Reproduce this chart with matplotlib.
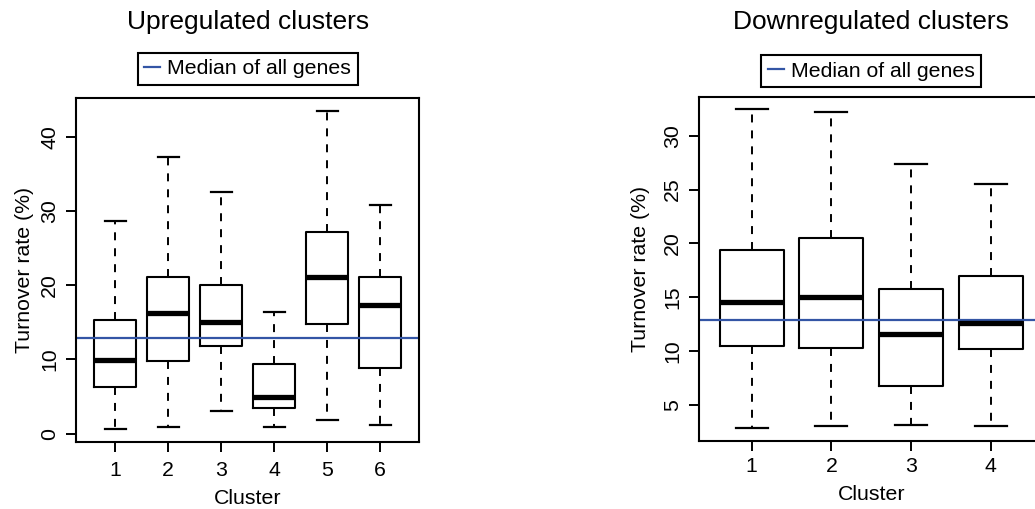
import matplotlib
matplotlib.use("Agg")
from matplotlib import pyplot as plt

plt.rcParams['font.family'] = ['Liberation Sans', 'DejaVu Sans']

# Upregulated clusters: whisker low, Q1, median, Q3, whisker high
up_clusters = ["1", "2", "3", "4", "5", "6"]
up_low = [0.6, 0.95, 3.05, 0.95, 1.9, 1.2]
up_q1 = [6.3, 9.8, 11.8, 3.45, 14.8, 8.8]
up_med = [9.9, 16.2, 15.05, 5.0, 21.1, 17.3]
up_q3 = [15.3, 21.1, 20.0, 9.4, 27.1, 21.1]
up_high = [28.6, 37.3, 32.5, 16.4, 43.5, 30.8]

# Downregulated clusters
down_clusters = ["1", "2", "3", "4"]
down_low = [2.87, 3.03, 3.15, 3.03]
down_q1 = [10.44, 10.29, 6.77, 10.23]
down_med = [14.52, 15.05, 11.56, 12.58]
down_q3 = [19.43, 20.52, 15.73, 16.96]
down_high = [32.44, 32.16, 27.38, 25.49]

median_all = 12.9
blue = '#3355a5'
fs = 15.3


def make_stats(low, q1, med, q3, high):
    stats = []
    for i in range(len(low)):
        stats.append(dict(whislo=low[i], q1=q1[i], med=med[i], q3=q3[i],
                          whishi=high[i], fliers=[]))
    return stats


def draw_panel(ax, stats, labels, title, yticks, title_y, leg_y,
               xpad, xlabpad, ylabpad):
    n = len(stats)
    ax.bxp(stats, positions=range(1, n + 1), widths=0.8, showfliers=False,
           boxprops=dict(color='black', linewidth=1.5),
           medianprops=dict(color='black', linewidth=3.8, solid_capstyle='butt'),
           whiskerprops=dict(color='black', linewidth=1.4, linestyle=(0, (4.1, 4.1))),
           capprops=dict(color='black', linewidth=1.6), capwidths=0.4)
    lo = min(s['whislo'] for s in stats)
    hi = max(s['whishi'] for s in stats)
    r = hi - lo
    ax.set_ylim(lo - 0.04 * r, hi + 0.04 * r)
    ax.set_xlim(0.5 - 0.04 * n, n + 0.5 + 0.04 * n)
    ax.axhline(median_all, color=blue, linewidth=1.6, label='Median of all genes')
    ax.set_xticks(range(1, n + 1))
    ax.set_xticklabels(labels)
    ax.set_yticks(yticks)
    ax.set_yticklabels([str(t) for t in yticks], rotation=90, va='center')
    ax.tick_params(axis='both', direction='out', length=7, width=1.4,
                   labelsize=fs)
    ax.tick_params(axis='x', pad=xpad)
    ax.tick_params(axis='y', pad=5)
    for sp in ax.spines.values():
        sp.set_linewidth(1.5)
    ax.set_xlabel("Cluster", fontsize=fs, labelpad=xlabpad)
    ax.set_ylabel("Turnover rate (%)", fontsize=fs, labelpad=ylabpad)
    ax.text(0.5, title_y, title, transform=ax.transAxes, ha='center',
            va='center', fontsize=19)
    leg = ax.legend(loc='center', bbox_to_anchor=(0.5, leg_y), fontsize=fs,
                    handlelength=0.75, handletextpad=0.35, borderpad=0.3,
                    borderaxespad=0, fancybox=False, framealpha=1)
    leg.get_frame().set_edgecolor('black')
    leg.get_frame().set_linewidth(1.5)


fig = plt.figure(figsize=(10.35, 5.09), dpi=100)
ax1 = fig.add_axes([0.0734, 0.1316, 0.3319, 0.676])
ax2 = fig.add_axes([0.6754, 0.1342, 0.3327, 0.6758])

draw_panel(ax1, make_stats(up_low, up_q1, up_med, up_q3, up_high), up_clusters,
           "Upregulated clusters", [0, 10, 20, 30, 40], 1.22, 1.085,
           6.5, 6.3, 4.4)
draw_panel(ax2, make_stats(down_low, down_q1, down_med, down_q3, down_high),
           down_clusters, "Downregulated clusters", [5, 10, 15, 20, 25, 30],
           1.218, 1.074, 4.4, 7, 9.5)

fig.savefig("out.png", dpi=100)
